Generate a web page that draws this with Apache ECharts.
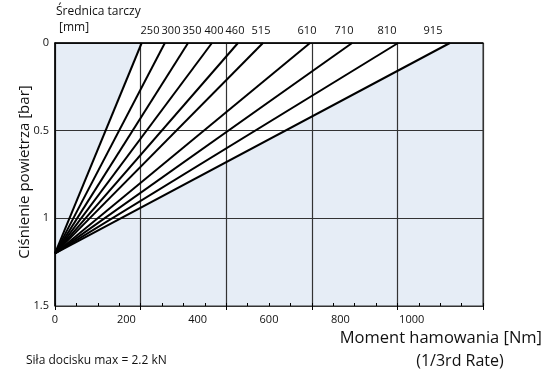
<!DOCTYPE html>
<html>
<head>
<meta charset="utf-8">
<script src="https://cdn.jsdelivr.net/npm/echarts@6/dist/echarts.min.js"></script>
<style>html,body{margin:0;padding:0;background:#fff}#c{width:559px;height:371px}</style>
</head>
<body>
<div id="c"></div>
<script>
// ---- data ----
const diameters = ['250', '300', '350', '400', '460', '515', '610', '710', '810', '915'];
const torqueAtZeroBar = [243, 308, 373, 440, 513, 583, 715, 833, 962, 1107];
const startTorque = 0;
const startPressure = 1.2;
const endPressure = 0;
const xLabelStep = 200;
const xGridStep = 240;
const xMinorStep = 60;
const xMax = 1200;
const yTicks = [0, 0.5, 1, 1.5];

const FONT = '"Open Sans", sans-serif';
const chart = echarts.init(document.getElementById('c'));

const lineSeries = diameters.map((d, i) => ({
  type: 'line',
  name: d,
  xAxisIndex: 0,
  yAxisIndex: 0,
  data: [[startTorque, startPressure], [torqueAtZeroBar[i], endPressure]],
  symbol: 'none',
  lineStyle: { color: '#000', width: 2 },
  silent: true,
  z: 5
}));

// white band between the smallest and largest disc lines
const bandSeries = {
  type: 'custom',
  xAxisIndex: 0,
  yAxisIndex: 0,
  silent: true,
  z: 1,
  data: [[0]],
  renderItem: function (params, api) {
    const pts = [
      api.coord([startTorque, startPressure]),
      api.coord([torqueAtZeroBar[0], endPressure]),
      api.coord([torqueAtZeroBar[torqueAtZeroBar.length - 1], endPressure])
    ];
    return { type: 'polygon', shape: { points: pts }, style: { fill: '#ffffff' } };
  }
};

const labelCenters = [150, 171, 192, 214, 235, 261, 307, 344, 387, 433];
const graphics = [
  { type: 'text', left: 56, top: 6, style: { text: 'Średnica tarczy', font: '12px ' + FONT, fill: '#111' } },
  { type: 'text', left: 59, top: 22, style: { text: '[mm]', font: '12px ' + FONT, fill: '#111' } },
  { type: 'text', left: 26, top: 355, style: { text: 'Siła docisku max = 2.2 kN', font: '12px ' + FONT, fill: '#111' } },
  { type: 'text', right: 17, top: 330, style: { text: 'Moment hamowania [Nm]', font: '16.5px ' + FONT, fill: '#111' } },
  { type: 'text', x: 460, y: 361, style: { text: '(1/3rd Rate)', font: '16px ' + FONT, fill: '#111', align: 'center', verticalAlign: 'middle' } },
  { type: 'text', x: 25, y: 172, rotation: Math.PI / 2, style: { text: 'Ciśnienie powietrza [bar]', font: '15px ' + FONT, fill: '#111', align: 'center', verticalAlign: 'middle' } }
].concat(diameters.map((d, i) => ({
  type: 'text', x: labelCenters[i], y: 31,
  style: { text: d, font: '11px ' + FONT, fill: '#111', align: 'center', verticalAlign: 'middle' }
})));

const baseX = { type: 'value', min: 0, max: xMax, gridIndex: 0, position: 'bottom', z: 3 };

chart.setOption({
  animation: false,
  grid: {
    left: 55, right: 76, top: 43, bottom: 65,
    show: true, backgroundColor: '#e6edf6', borderColor: '#333', borderWidth: 1
  },
  xAxis: [
    Object.assign({}, baseX, {
      interval: xLabelStep,
      axisLine: { show: true, lineStyle: { color: '#000', width: 1.5 } },
      axisTick: { show: false },
      splitLine: { show: false },
      axisLabel: { show: true, showMaxLabel: false, margin: 8, fontSize: 11, fontFamily: FONT, color: '#111',
        formatter: v => String(v) }
    }),
    Object.assign({}, baseX, {
      interval: xMinorStep,
      axisLine: { show: false },
      axisTick: { show: true, inside: true, length: 3, lineStyle: { color: '#000', width: 1 } },
      splitLine: { show: false },
      axisLabel: { show: false }
    }),
    Object.assign({}, baseX, {
      interval: xGridStep,
      axisLine: { show: false },
      axisTick: { show: true, inside: false, length: 4, lineStyle: { color: '#000', width: 1 } },
      splitLine: { show: true, lineStyle: { color: '#333', width: 1.2 } },
      axisLabel: { show: false }
    })
  ],
  yAxis: [{
    type: 'value', inverse: true, min: yTicks[0], max: yTicks[yTicks.length - 1], interval: 0.5, z: 3,
    axisLine: { show: true, lineStyle: { color: '#000', width: 1.5 } },
    axisTick: { show: false },
    splitLine: { show: true, lineStyle: { color: '#333', width: 1.2 } },
    axisLabel: { margin: 6, fontSize: 11, fontFamily: FONT, color: '#111',
      formatter: v => String(v) }
  }],
  graphic: graphics,
  series: [bandSeries].concat(lineSeries)
});
</script>
</body>
</html>
